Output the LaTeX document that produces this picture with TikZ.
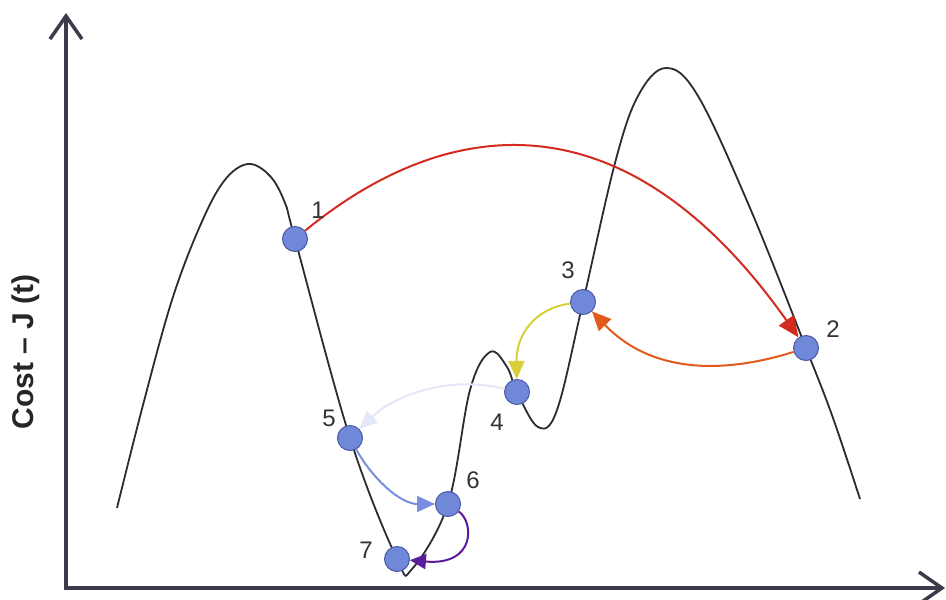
\documentclass[tikz,border=0pt]{standalone}
\usepackage{fontspec}
\setmainfont{Liberation Sans}
\usetikzlibrary{arrows.meta}
\definecolor{axiscol}{HTML}{3B3B4B}
\definecolor{curvecol}{HTML}{2B2B33}
\definecolor{dotfill}{HTML}{7088D8}
\definecolor{dotdraw}{HTML}{4A5AA8}
\definecolor{redarr}{HTML}{D42A20}
\definecolor{orangearr}{HTML}{E35A1C}
\definecolor{yellowarr}{HTML}{D8CF3A}
\definecolor{lavarr}{HTML}{E4E7F8}
\definecolor{bluearr}{HTML}{7A8EE0}
\definecolor{purplearr}{HTML}{5B1B9C}
\begin{document}
\begin{tikzpicture}[x=1pt,y=-1pt,
  axis/.style={draw=axiscol, line width=3.5pt},
  costcurve/.style={draw=curvecol, line width=1.8pt},
  dot/.style={circle, fill=dotfill, draw=dotdraw, line width=1pt, minimum size=25pt, inner sep=0pt},
  num/.style={text=black!80, font=\fontsize{24}{28}\selectfont, inner sep=0pt},
  move/.style={line width=2pt, -{Triangle[length=18pt,width=16pt]}},
]
\useasboundingbox (0,0) rectangle (946,600);
\fill[white] (0,0) rectangle (946,600);

% axes
\coordinate (O) at (66,588);
\coordinate (ytip) at (66,13);
\coordinate (xtip) at (945,588);
\draw[axis, {Straight Barb[length=23pt,width=32pt]}-{Straight Barb[length=23pt,width=32pt]}] (ytip) -- (O) -- (xtip);
\node[rotate=90, font=\bfseries\fontsize{30}{34}\selectfont, text=black!85, inner sep=0pt] (ylab) at (26,352) {Cost – J (t)};

% point positions
\coordinate (c1) at (295,239);
\coordinate (c2) at (806,348);
\coordinate (c3) at (583,302);
\coordinate (c4) at (517,392);
\coordinate (c5) at (350,438);
\coordinate (c6) at (448,504);
\coordinate (c7) at (397,559);

% cost curve
\draw[costcurve] plot[smooth, tension=0.6] coordinates {
  (117,508) (143,405) (172,300) (200,226) (224,181) (248,164) (270,176) (285,203) (c1)
  (c5) (c7) (412,569) (c6) (470,390) (490,352) (507,367) (c4)
  (538,427) (557,410) (c3) (615,163) (638,96) (666,68) (698,96) (750,208)
  (c2) (833,418) (860,499)};

% points
\node[dot] (p1) at (c1) {};
\node[dot] (p2) at (c2) {};
\node[dot] (p3) at (c3) {};
\node[dot] (p4) at (c4) {};
\node[dot] (p5) at (c5) {};
\node[dot] (p6) at (c6) {};
\node[dot] (p7) at (c7) {};

% moves
\draw[move, draw=redarr, -{Triangle[length=21pt,width=18pt,fill=redarr]}] (p1) .. controls (440,120) and (620,85) .. (p2);
\draw[move, draw=orangearr, -{Triangle[length=19pt,width=17pt,fill=orangearr]}] (p2) .. controls (720,375) and (650,372) .. (p3);
\draw[move, draw=yellowarr, -{Triangle[length=18pt,width=16pt,fill=yellowarr]}] (p3) .. controls (535,308) and (516,335) .. (p4);
\draw[move, draw=lavarr, -{Triangle[length=18pt,width=16pt,fill=lavarr]}] (p4) .. controls (450,375) and (395,395) .. (p5);
\draw[move, draw=bluearr, -{Triangle[length=18pt,width=16pt,fill=bluearr]}] (p5) .. controls (372,478) and (400,504) .. (p6);
\draw[move, draw=purplearr, -{Triangle[length=16pt,width=15pt,fill=purplearr]}] (p6) .. controls (474,522) and (476,566) .. (p7);

% labels
\node[num] (l1) at (318,210) {1};
\node[num] (l2) at (833,329) {2};
\node[num] (l3) at (568,270) {3};
\node[num] (l4) at (497,422) {4};
\node[num] (l5) at (329,418) {5};
\node[num] (l6) at (473,480) {6};
\node[num] (l7) at (366,550) {7};
\end{tikzpicture}
\end{document}
